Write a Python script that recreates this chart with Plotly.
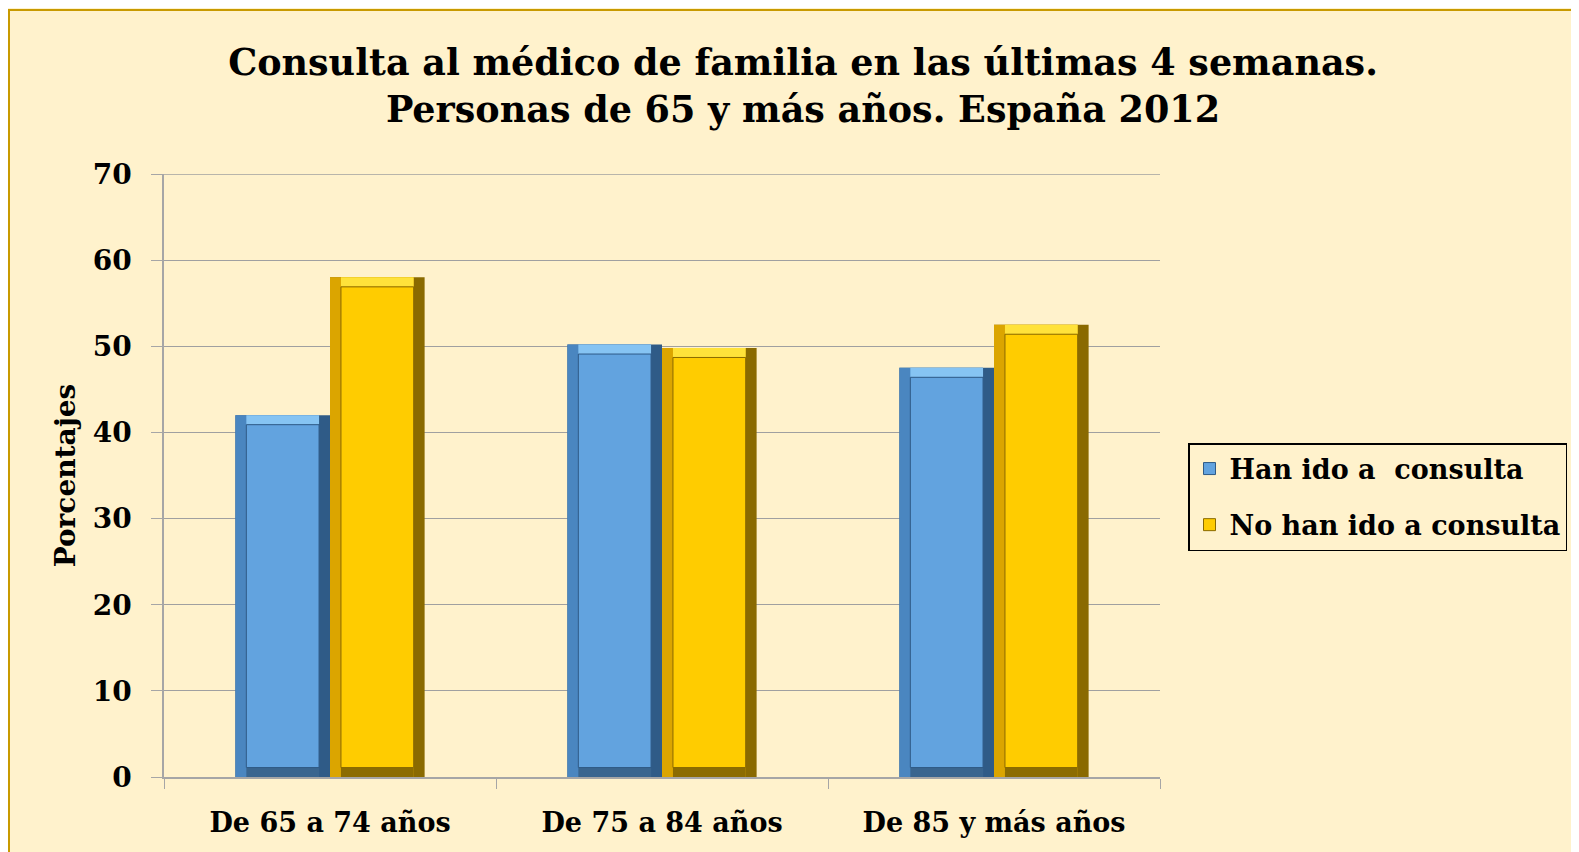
import plotly.graph_objects as go

categories = ["De 65 a 74 años", "De 75 a 84 años", "De 85 y más años"]
han_ido = [42.0, 50.2, 47.5]
no_han_ido = [58.0, 49.8, 52.5]
series_names = ["Han ido a  consulta", "No han ido a consulta"]
y_ticks = [0, 10, 20, 30, 40, 50, 60, 70]

FONT = "DejaVu Serif"
W, H = 1579, 852
L, R, T, B = 156, 427, 166, 83
pw, ph = W - L - R, H - T - B

fig = go.Figure()

bar_w = 0.285
dx = 0.033   # bevel width (category units)
dy = 1.1     # bevel height (value units)

styles = [
    dict(face="#62a3df", left="#4a86c0", right="#2f5b87", top="#86c4f3", bottom="#39658f"),
    dict(face="#ffcc00", left="#dba500", right="#8a6a00", top="#ffe23a", bottom="#8c6c00"),
]
offsets = [-bar_w, 0.0]

for i, (vals, name, st, off) in enumerate(zip([han_ido, no_han_ido], series_names, styles, offsets)):
    grp = "g%d" % i
    fig.add_trace(go.Bar(x=categories, y=vals, offset=off, width=bar_w, legendgroup=grp,
                         marker=dict(color=st["right"], line=dict(width=0)),
                         showlegend=False, hoverinfo="skip"))
    fig.add_trace(go.Bar(x=categories, y=vals, offset=off, width=bar_w - dx, legendgroup=grp,
                         marker=dict(color=st["left"], line=dict(width=0)),
                         showlegend=False, hoverinfo="skip"))
    fig.add_trace(go.Bar(x=categories, y=[dy for v in vals], base=[0 for v in vals], legendgroup=grp,
                         offset=off + dx, width=bar_w - 2 * dx,
                         marker=dict(color=st["bottom"], line=dict(width=0)),
                         showlegend=False, hoverinfo="skip"))
    fig.add_trace(go.Bar(x=categories, y=[dy for v in vals], base=[v - dy for v in vals], legendgroup=grp,
                         offset=off + dx, width=bar_w - 2 * dx,
                         marker=dict(color=st["top"], line=dict(width=0)),
                         showlegend=False, hoverinfo="skip"))
    fig.add_trace(go.Bar(x=categories, y=[v - 2 * dy for v in vals], base=[dy for v in vals], legendgroup=grp,
                         offset=off + dx, width=bar_w - 2 * dx, name="<b>" + name + "</b>",
                         marker=dict(color=st["face"], line=dict(color=st["right"], width=1)),
                         customdata=vals, hovertemplate="%{x}<br>%{customdata}<extra>" + name + "</extra>"))

def px_x(p):
    return (p - L) / pw

def px_y(p):
    return (H - B - p) / ph

fig.add_shape(type="rect", xref="paper", yref="paper",
              x0=px_x(1), x1=px_x(1640), y0=px_y(2), y1=px_y(900),
              fillcolor="#fff2cc", line=dict(color="#c89a00", width=2), layer="below")
# gridline at the top of the value range
fig.add_shape(type="line", xref="paper", yref="y", x0=0, x1=1, y0=y_ticks[-1], y1=y_ticks[-1],
              line=dict(color="#a0a0a0", width=1.5), layer="below")

fig.update_layout(
    width=W, height=H,
    margin=dict(l=L, r=R, t=T, b=B),
    paper_bgcolor="#fff2cc",
    plot_bgcolor="#dae3f3",
    barmode="overlay",
    font=dict(family=FONT, color="#000000"),
    title=dict(text="<b>Consulta al médico de familia en las últimas 4 semanas.<br>Personas de 65 y más años. España 2012</b>",
               x=795 / W, xanchor="center", y=1 - 67 / H, yanchor="middle",
               font=dict(family=FONT, size=36.5, color="#000000")),
    legend=dict(x=px_x(1180), y=px_y(435), xanchor="left", yanchor="top",
                bgcolor="#fff2cc", bordercolor="#000000", borderwidth=1.5,
                font=dict(family=FONT, size=27, color="#000000"),
                traceorder="grouped", tracegroupgap=18),
    showlegend=True,
)
fig.update_xaxes(
    type="category", showgrid=False, showline=True, linecolor="#a6a6a6", linewidth=1.5,
    ticks="outside", tickson="boundaries", ticklen=10, tickcolor="#a6a6a6",
    tickfont=dict(family=FONT, size=27, color="#000000"),
    tickprefix="<b>", ticksuffix="</b>", ticklabelstandoff=21,
)
fig.update_yaxes(
    range=[0, 70], tickvals=y_ticks, ticktext=[f"<b>{v}</b>" for v in y_ticks],
    showgrid=True, gridcolor="#a0a0a0", gridwidth=1,
    showline=True, linecolor="#a6a6a6", linewidth=1.5,
    ticks="outside", ticklen=11, tickcolor="#a6a6a6",
    tickfont=dict(family=FONT, size=28, color="#000000"), ticklabelstandoff=14,
    title=dict(text="<b>Porcentajes</b>", font=dict(family=FONT, size=28, color="#000000"), standoff=9),
    zeroline=False,
)

fig.write_html("out.html")
